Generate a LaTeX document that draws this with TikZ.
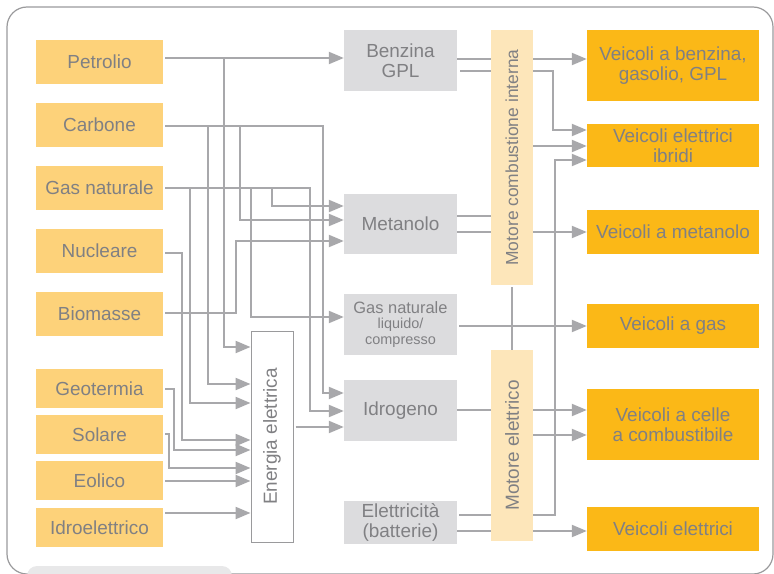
\documentclass[tikz,border=0pt]{standalone}
\usepackage{fontspec}
\setmainfont{Liberation Sans}
\usepackage{graphicx}
\usetikzlibrary{arrows.meta}
\definecolor{srcC}{HTML}{FDD27A}
\definecolor{vehC}{HTML}{FBB817}
\definecolor{midC}{HTML}{DCDCDE}
\definecolor{motC}{HTML}{FDE6BA}
\definecolor{lnC}{HTML}{A8A8AB}
\definecolor{txtC}{HTML}{808083}
\definecolor{frameC}{HTML}{9A9A9C}
\definecolor{tabC}{HTML}{E8E8E9}
\pgfdeclarelayer{bg}
\pgfsetlayers{bg,main}
\begin{document}
\begin{tikzpicture}[x=1bp,y=-1bp,
  box/.style={inner sep=0pt, text=txtC, font=\fontsize{19}{20}\selectfont, align=center},
  srcbox/.style={box, fill=srcC, minimum width=127bp},
  midbox/.style={box, fill=midC, minimum width=113bp},
  motbox/.style={box, fill=motC, minimum width=42bp},
  vehbox/.style={box, fill=vehC, minimum width=172bp},
  conn/.style={draw=lnC, line width=2.2bp},
  arr/.style={conn, -{Triangle[length=15bp,width=12bp]}},
  gap/.style={shorten <=2bp},
]
\useasboundingbox (0,0) rectangle (774,574);
\clip (0,0) rectangle (774,574);

% sources
\node[srcbox, minimum height=44bp] (petrolio) at (99.5,62) {Petrolio};
\node[srcbox, minimum height=44bp] (carbone) at (99.5,125) {Carbone};
\node[srcbox, minimum height=44bp] (gas) at (99.5,188) {Gas naturale};
\node[srcbox, minimum height=44bp] (nucleare) at (99.5,251) {Nucleare};
\node[srcbox, minimum height=44bp] (biomasse) at (99.5,314) {Biomasse};
\node[srcbox, minimum height=39bp] (geotermia) at (99.5,388.5) {Geotermia};
\node[srcbox, minimum height=39bp] (solare) at (99.5,434.5) {Solare};
\node[srcbox, minimum height=39bp] (eolico) at (99.5,480.5) {Eolico};
\node[srcbox, minimum height=39bp] (idro) at (99.5,527.5) {Idroelettrico};

% energia elettrica
\node[box, draw=frameC, line width=1bp, fill=white, minimum width=42bp, minimum height=211bp] (energia) at (272,436.5) {\rotatebox{90}{Energia elettrica}};

% middle products
\node[midbox, minimum height=61bp] (benzina) at (400.5,60.5) {Benzina\\GPL};
\node[midbox, minimum height=60bp] (metanolo) at (400.5,224) {Metanolo};
\node[midbox, minimum height=61bp, font=\fontsize{14.5}{15.5}\selectfont] (gnl) at (400.5,324.5) {{\fontsize{16.5}{17}\selectfont Gas naturale}\\liquido/\\compresso};
\node[midbox, minimum height=61bp] (idrogeno) at (400.5,410.5) {Idrogeno};
\node[midbox, minimum height=43bp] (elett) at (400.5,522.5) {Elettricità\\(batterie)};

% motors
\node[motbox, minimum height=255bp] (motcomb) at (512,157.5) {\rotatebox{90}{\fontsize{17.5}{18}\selectfont Motore combustione interna}};
\node[motbox, minimum height=191bp] (motel) at (512,445.5) {\rotatebox{90}{Motore elettrico}};

% vehicles
\node[vehbox, minimum height=71bp] (vbenz) at (673,65.5) {Veicoli a benzina,\\gasolio, GPL};
\node[vehbox, minimum height=43bp] (vibr) at (673,145.5) {Veicoli elettrici\\ibridi};
\node[vehbox, minimum height=44bp] (vmet) at (673,232) {Veicoli a metanolo};
\node[vehbox, minimum height=44bp] (vgas) at (673,326) {Veicoli a gas};
\node[vehbox, minimum height=71bp] (vcelle) at (673,424.5) {Veicoli a celle\\a combustibile};
\node[vehbox, minimum height=44bp] (velett) at (673,529) {Veicoli elettrici};

\begin{pgfonlayer}{bg}
  \draw[frameC, line width=1.2bp, rounded corners=20bp] (7,7) rectangle (773,574);
  \fill[tabC, rounded corners=10bp] (27,566) rectangle (232,600);

  % Petrolio
  \draw[arr,gap] (petrolio.east |- 0,58) -- (benzina.west |- 0,58);
  \draw[arr,gap] (petrolio.east |- 0,58) -- (224,58) -- (224,347) -- (energia.west |- 0,347);
  % Carbone
  \draw[arr,gap] (carbone.east |- 0,126) -- (323,126) -- (323,393) -- (idrogeno.west |- 0,393);
  \draw[arr,gap] (carbone.east |- 0,126) -- (208,126) -- (208,384) -- (energia.west |- 0,384);
  \draw[arr,gap] (carbone.east |- 0,126) -- (240,126) -- (240,220) -- (metanolo.west |- 0,220);
  % Gas naturale
  \draw[arr,gap] (gas.east |- 0,188) -- (310,188) -- (310,411) -- (idrogeno.west |- 0,411);
  \draw[arr,gap] (gas.east |- 0,188) -- (190,188) -- (190,403) -- (energia.west |- 0,403);
  \draw[arr,gap] (gas.east |- 0,188) -- (251,188) -- (251,317) -- (gnl.west |- 0,317);
  \draw[arr,gap] (gas.east |- 0,188) -- (272,188) -- (272,206) -- (metanolo.west |- 0,206);
  % Nucleare
  \draw[arr,gap] (nucleare.east |- 0,253) -- (182,253) -- (182,440) -- (energia.west |- 0,440);
  % Biomasse
  \draw[arr,gap] (biomasse.east |- 0,313) -- (236,313) -- (236,241) -- (metanolo.west |- 0,241);
  % Geotermia, Solare, Eolico, Idroelettrico
  \draw[arr,gap] (geotermia.east |- 0,389) -- (174,389) -- (174,450) -- (energia.west |- 0,450);
  \draw[arr,gap] (solare.east |- 0,434) -- (169,434) -- (169,468) -- (energia.west |- 0,468);
  \draw[arr,gap] (eolico.east |- 0,481) -- (energia.west |- 0,481);
  \draw[arr,gap] (idro.east |- 0,513) -- (energia.west |- 0,513);
  % Energia -> Idrogeno
  \draw[arr,gap] (energia.east |- 0,427) -- (idrogeno.west |- 0,427);

  % right side
  \draw[arr] (benzina.east |- 0,59) -- (vbenz.west |- 0,59);
  \draw[arr,shorten <=3bp] (benzina.east |- 0,71) -- (553,71) -- (553,130) -- (vibr.west |- 0,130);
  \draw[arr] (motcomb.east |- 0,146) -- (vibr.west |- 0,146);
  \draw[arr,gap] (elett.east |- 0,515) -- (555,515) -- (555,160) -- (vibr.west |- 0,160);
  \draw[conn] (metanolo.east |- 0,216) -- (motcomb.west |- 0,216);
  \draw[arr] (metanolo.east |- 0,232) -- (vmet.west |- 0,232);
  \draw[arr,gap] (gnl.east |- 0,326) -- (vgas.west |- 0,326);
  \draw[conn,shorten <=2bp,shorten >=0bp] (motcomb.south) -- (motel.north);
  \draw[arr] (idrogeno.east |- 0,410) -- (vcelle.west |- 0,410);
  \draw[arr] (motel.east |- 0,435) -- (vcelle.west |- 0,435);
  \draw[arr] (elett.east |- 0,531) -- (velett.west |- 0,531);
\end{pgfonlayer}
\end{tikzpicture}
\end{document}
